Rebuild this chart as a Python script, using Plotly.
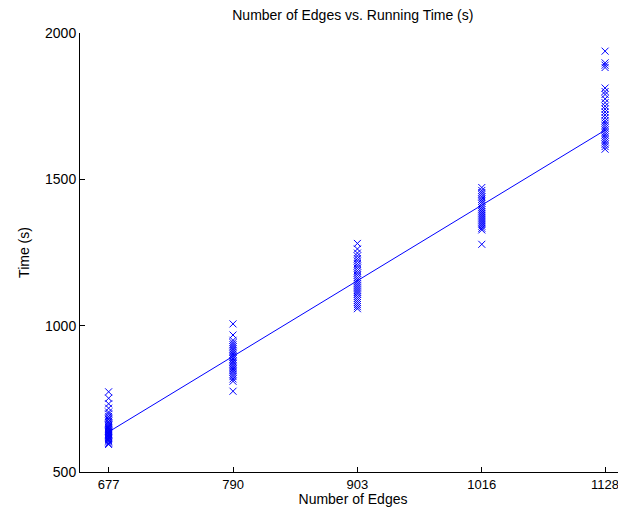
import plotly.graph_objects as go

edges = [677, 790, 903, 1016, 1128]
tick_labels = ["677", "790", "903", "1016", "1128"]

times_677 = [774, 752, 733, 718, 705, 698, 690, 684, 679, 673, 668, 664, 660, 656, 652,
             648, 645, 641, 638, 635, 631, 628, 625, 621, 618, 615, 611, 607, 603, 598, 594]
times_790 = [1006, 968, 950, 942, 935, 928, 921, 915, 909, 903, 897, 891, 886, 880, 875,
             870, 864, 858, 852, 846, 840, 833, 826, 818, 810, 776]
times_903 = [1281, 1262, 1248, 1238, 1229, 1221, 1212, 1204, 1196, 1188, 1180, 1172, 1164,
             1157, 1150, 1143, 1136, 1129, 1122, 1115, 1108, 1100, 1093, 1086, 1079, 1072,
             1065, 1058]
times_1016 = [1472, 1462, 1455, 1448, 1440, 1432, 1425, 1418, 1410, 1403, 1396, 1389, 1382,
              1375, 1368, 1361, 1354, 1347, 1340, 1333, 1327, 1278]
times_1128 = [1938, 1898, 1890, 1882, 1812, 1800, 1790, 1775, 1762, 1750, 1740, 1730, 1720,
              1710, 1700, 1692, 1684, 1676, 1668, 1660, 1652, 1644, 1636, 1628, 1620, 1612, 1603]

fit_x = [677, 1128]
fit_y = [637, 1668]

all_times = [times_677, times_790, times_903, times_1016, times_1128]
xs, ys = [], []
for e, ts in zip(edges, all_times):
    xs += [e] * len(ts)
    ys += ts

fig = go.Figure()
fig.add_trace(go.Scatter(x=xs, y=ys, mode="markers", cliponaxis=False,
                         marker=dict(symbol="x-thin", size=7, color="#0000ff",
                                     line=dict(color="#0000ff", width=1)),
                         showlegend=False))
fig.add_trace(go.Scatter(x=fit_x, y=fit_y, mode="lines",
                         line=dict(color="#0000ff", width=1), showlegend=False))

font = "Liberation Sans, Arial, sans-serif"
fig.update_layout(
    width=618, height=499,
    margin=dict(l=72, r=0, t=25, b=35, autoexpand=False),
    paper_bgcolor="white", plot_bgcolor="white",
    font=dict(family=font, size=14, color="black"),
    title=dict(text="Number of Edges vs. Running Time (s)", xref="container", x=0.558,
               xanchor="center", yref="container", y=0.986, yanchor="middle",
               font=dict(size=14, family=font, color="black")),
    xaxis=dict(range=[651, 1147], tickmode="array", tickvals=edges, ticktext=tick_labels,
               ticks="inside", ticklen=5, tickcolor="black", showline=True, linecolor="black",
               linewidth=1, showgrid=False, zeroline=False, mirror=False,
               ticklabeloverflow="allow", automargin=False,
               title=dict(text="Number of Edges", standoff=10, font=dict(size=14)),
               tickfont=dict(size=13)),
    yaxis=dict(range=[500, 2000], tickmode="array", tickvals=[500, 1000, 1500, 2000],
               ticks="inside", ticklen=5, tickcolor="black", showline=True, linecolor="black",
               linewidth=1, showgrid=False, zeroline=False, automargin=False,
               title=dict(text="Time (s)", standoff=12, font=dict(size=14)),
               tickfont=dict(size=14)),
)

fig.write_html("out.html")
